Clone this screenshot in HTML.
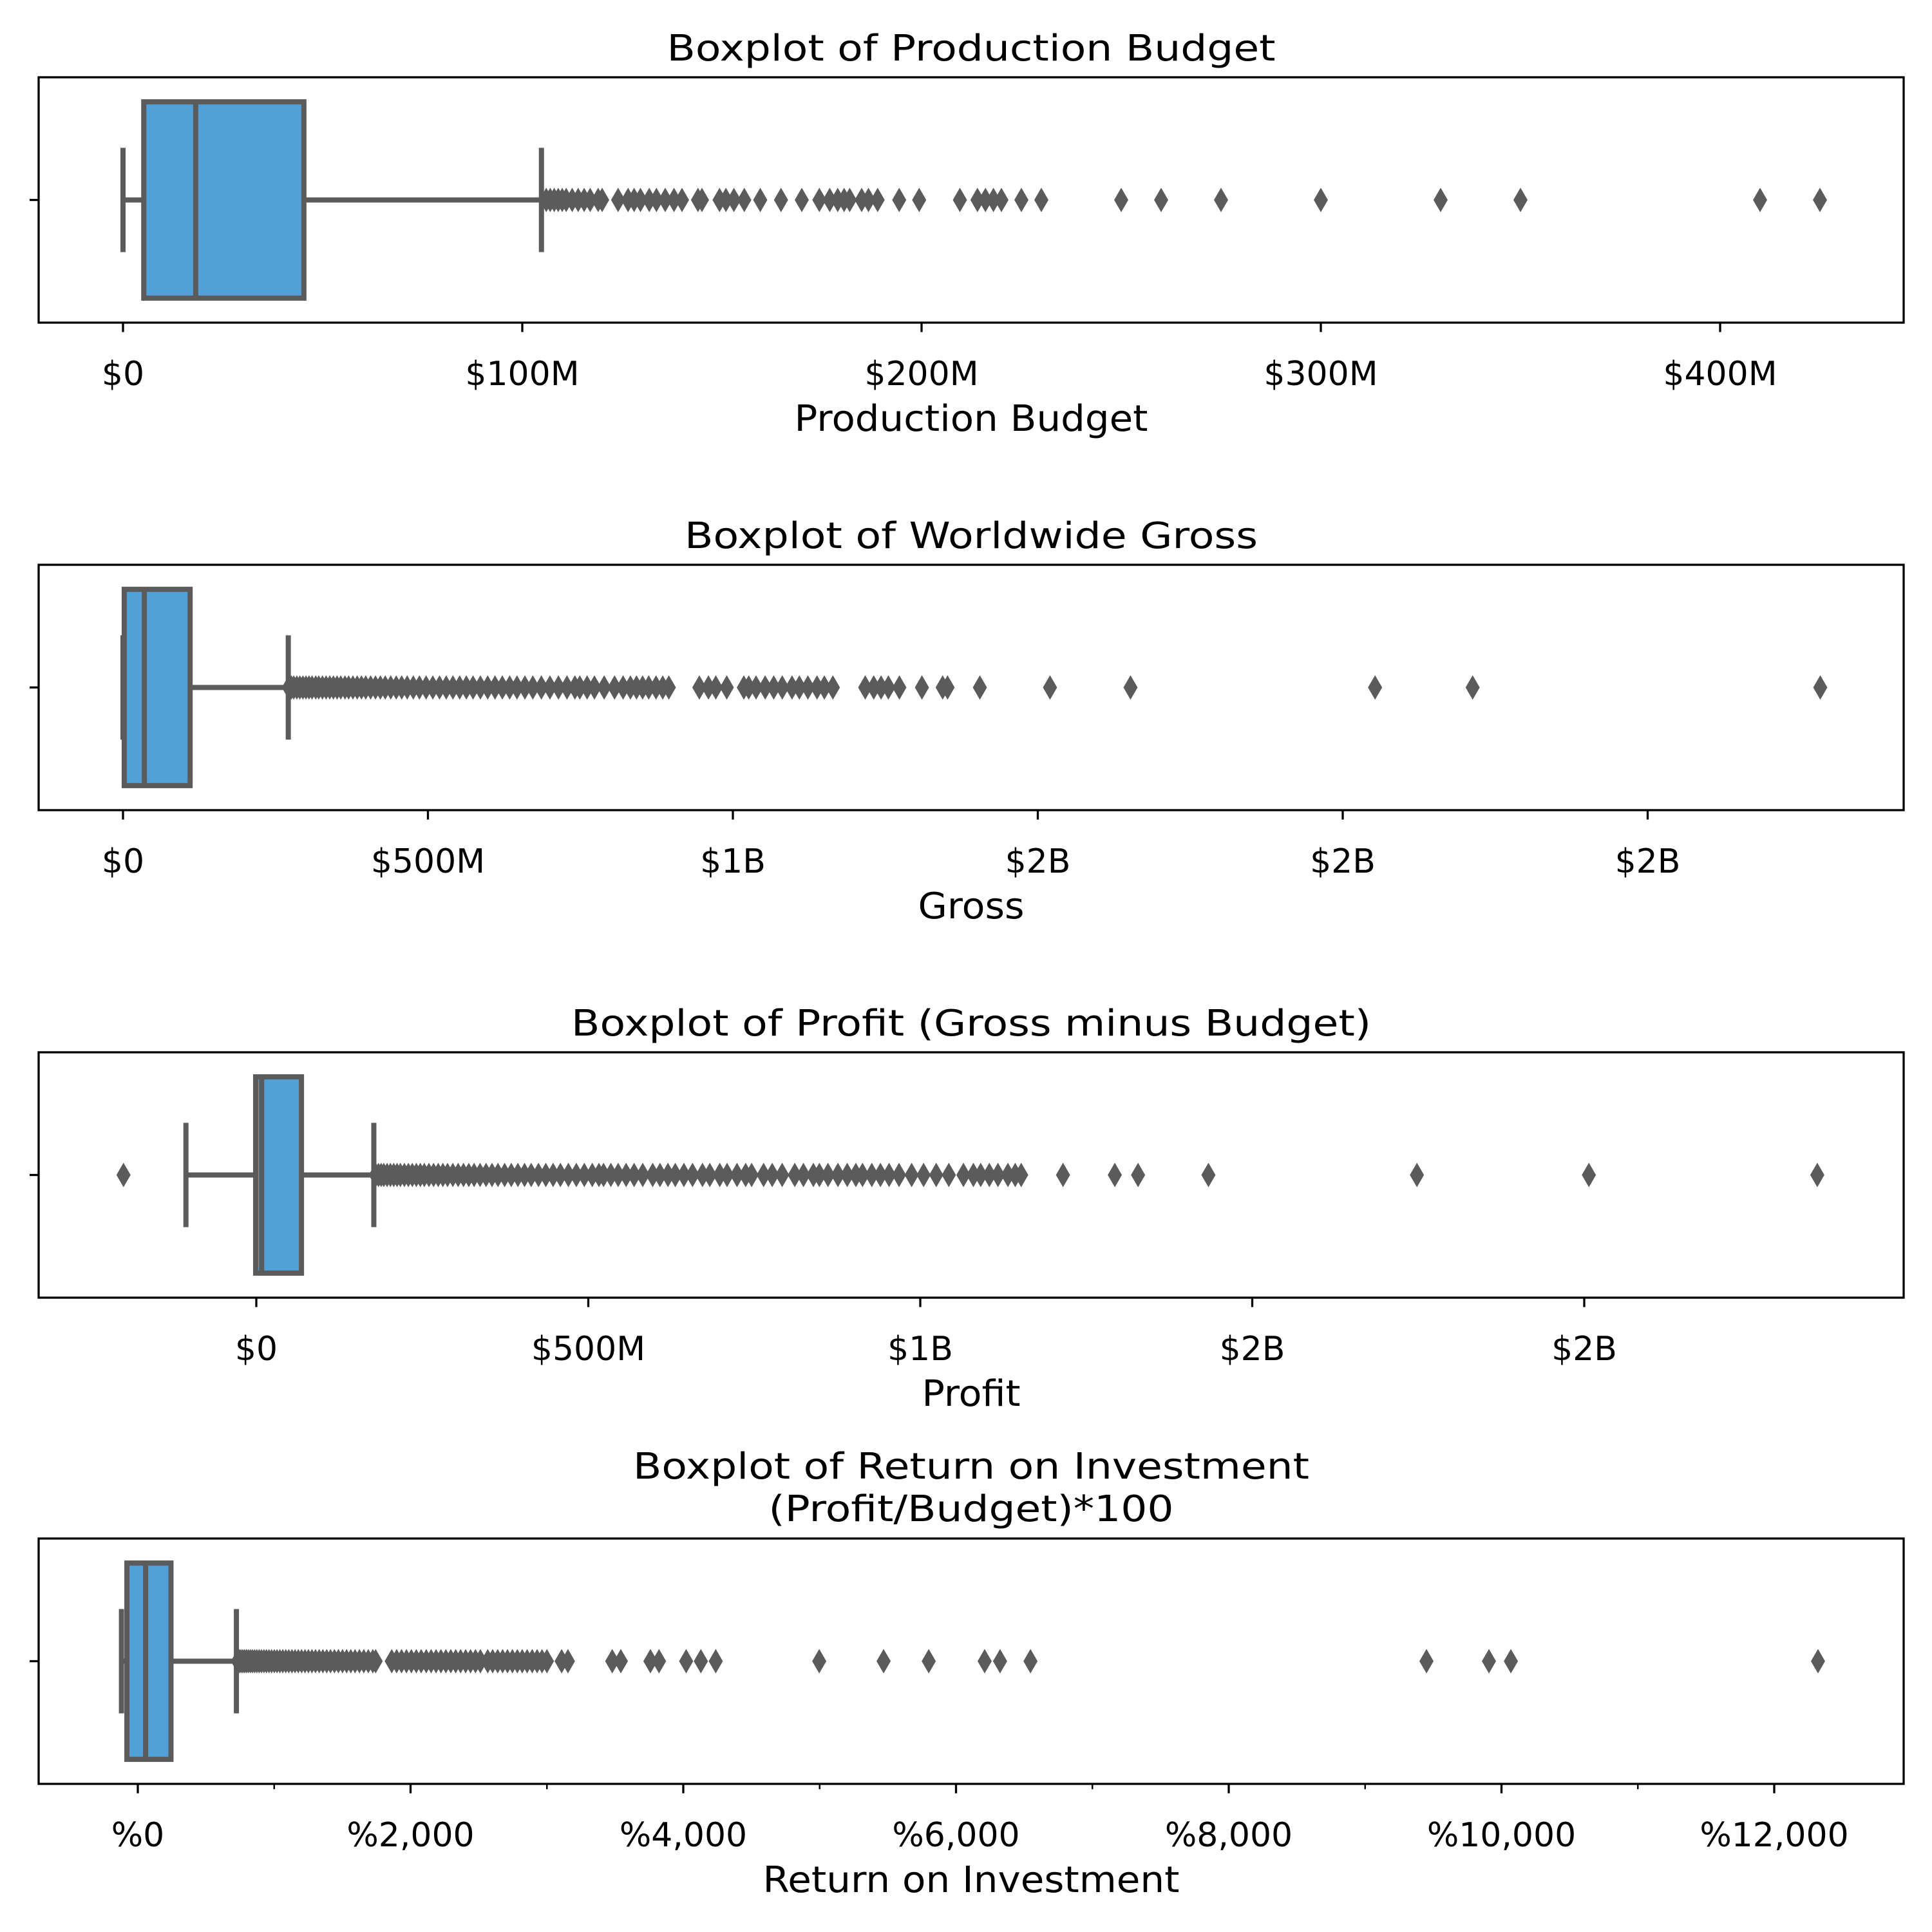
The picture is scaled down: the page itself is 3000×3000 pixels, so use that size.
<!DOCTYPE html>
<html><head><meta charset="utf-8"><style>
html,body{margin:0;padding:0;background:#fff;}
svg{display:block;font-family:"DejaVu Sans","Liberation Sans",sans-serif;}
</style></head><body>
<svg id="chart" width="3000" height="3000" viewBox="0 0 3000 3000" xmlns="http://www.w3.org/2000/svg"></svg>
<script>
// ---------- data ----------
const budgetStats = [0, 5.2, 18.2, 45.3, 104.8];
const budgetOutliers = [106,107,108,109,110,111,112.5,114,115.5,117,119,120,124,126.5,128,129.6,131.8,133.6,135.8,138,140,144,145,149.4,151,153,155.6,159.6,164.8,170,174.4,177,179,180.6,182,185,186.7,189,194.4,199.4,209.6,214,216,218,220,225,230,250,260,275,300,330,350,410,425];
const budgetTicks = [0,100,200,300,400];
const budgetTickLabels = ["$0","$100M","$200M","$300M","$400M"];

const grossStats = [0, 2, 35, 110, 271];
const grossOutliers = [272,276,280,285,290,295,300,305,310,316,321,327,333,339,345,351,357,364,370,377,384,391,398,406,414,422,430,439,448,457,466,476,486,497,508,519,530,541,552,563,574,586,598,610,622,634,646,659,672,686,700,714,728,741,749,761,773,789,806,820,832,842,852,862,874,885,895,945,960,972,990,1018,1026,1038,1053,1067,1081,1097,1109,1123,1138,1150,1164,1217,1231,1243,1255,1273,1310,1344,1352,1405,1520,1652,2053,2213,2783];
const grossTicks = [0,500,1000,1500,2000,2500];
const grossTickLabels = ["$0","$500M","$1B","$2B","$2B","$2B"];

const profitStats = [-106, -1, 8, 68, 177];
const profitOutliers = [-200,180,184,188,192,197,202,207,212,217,223,229,235,241,247,253,260,267,274,281,288,296,304,312,320,328,337,346,355,364,374,384,394,404,414,425,436,447,458,470,482,494,506,516,523,534,545,557,569,582,597,608,620,631,644,657,672,683,698,709,724,737,746,764,777,792,811,824,839,848,861,876,890,903,913,927,940,953,968,987,1005,1024,1043,1065,1080,1091,1104,1117,1132,1143,1152,1215,1293,1328,1434,1748,2007,2351];
const profitTicks = [0,500,1000,1500,2000];
const profitTickLabels = ["$0","$500M","$1B","$2B","$2B"];

const roiStats = [-120, -80, 57, 243, 723];
const roiOutliers = [734,745,757,770,783,797,811,826,841,857,873,890,907,925,943,962,981,1001,1021,1042,1063,1085,1107,1130,1153,1177,1201,1226,1251,1277,1303,1330,1357,1385,1413,1442,1471,1501,1531,1562,1593,1625,1657,1690,1723,1744,1862,1898,1934,1970,2006,2042,2078,2115,2151,2187,2223,2259,2295,2331,2367,2404,2440,2476,2512,2566,2602,2639,2675,2711,2747,2783,2819,2855,2892,2928,2964,3000,3108,3154,3479,3542,3759,3822,4021,4129,4238,4997,5469,5800,6210,6323,6546,9450,9908,10069,12321];
const roiTicks = [0,2000,4000,6000,8000,10000,12000];
const roiTickLabels = ["%0","%2,000","%4,000","%6,000","%8,000","%10,000","%12,000"];
const roiMinorTicks = [1000,3000,5000,7000,9000,11000];

// ---------- drawing ----------
const NS = "http://www.w3.org/2000/svg";
const svg = document.getElementById("chart");
function mk(tag, attrs, parent){
  const e = document.createElementNS(NS, tag);
  for (const k in attrs) e.setAttribute(k, attrs[k]);
  (parent||svg).appendChild(e);
  return e;
}
const AX_L = 60, AX_R = 2956, AX_H = 381;
const LINE = "#5b5b5b", FILL = "#52a0d8";

function panel(cfg){
  const g = mk("g", {});
  
  
  const top = cfg.top, bot = top + AX_H, cy = top + AX_H/2;
  const xs = v => cfg.x0 + v * cfg.k;

  cfg.title.forEach((t, i) => {
    const tt = mk("text", {x: 1508, y: cfg.titleY[i], "text-anchor":"middle", "font-size":56, textLength: cfg.titleW[i], lengthAdjust:"spacingAndGlyphs", fill:"#000"}, g);
    tt.textContent = t;
    
    
  });

  const s = cfg.stats;
  const bh = AX_H*0.4, ch = AX_H*0.2125;
  const wl = mk("line", {x1: xs(s[0]), x2: xs(s[1]), y1: cy, y2: cy, stroke: LINE, "stroke-width": 8}, g);
  
  
  const wh = mk("line", {x1: xs(s[3]), x2: xs(s[4]), y1: cy, y2: cy, stroke: LINE, "stroke-width": 8}, g);
  
  
  [s[0], s[4]].forEach((v, i) => {
    const c = mk("line", {x1: xs(v), x2: xs(v), y1: cy-ch, y2: cy+ch, stroke: LINE, "stroke-width": 8}, g);
    
    
  });
  const box = mk("rect", {x: xs(s[1]), y: cy-bh, width: xs(s[3])-xs(s[1]), height: 2*bh, fill: FILL, stroke: LINE, "stroke-width": 8}, g);
  
  
  const med = mk("line", {x1: xs(s[2]), x2: xs(s[2]), y1: cy-bh, y2: cy+bh, stroke: LINE, "stroke-width": 8}, g);
  
  

  cfg.outliers.forEach(v => {
    const x = xs(v);
    const d = mk("path", {d: `M${x} ${cy-19} L${x+11} ${cy} L${x} ${cy+19} L${x-11} ${cy} Z`, fill: LINE}, g);
    
    
  });

  const fr = mk("rect", {x: AX_L, y: top, width: AX_R-AX_L, height: AX_H, fill:"none", stroke:"#000", "stroke-width": 3.3}, g);
  
  
  const yt = mk("line", {x1: AX_L-14, x2: AX_L, y1: cy, y2: cy, stroke:"#000", "stroke-width": 3.3}, g);
  
  

  cfg.ticks.forEach((v, i) => {
    const x = xs(v);
    const tk = mk("line", {x1: x, x2: x, y1: bot, y2: bot+14.6, stroke:"#000", "stroke-width": 3.3}, g);
    
    
    const tl = mk("text", {x: x, y: bot + 97, "text-anchor":"middle", "font-size": 52, fill:"#000"}, g);
    tl.textContent = cfg.tickLabels[i];
    
    
  });
  (cfg.minor||[]).forEach(v => {
    const x = xs(v);
    const mt = mk("line", {x1: x, x2: x, y1: bot, y2: bot+8.3, stroke:"#000", "stroke-width": 2.5}, g);
    
    
  });

  const xl = mk("text", {x: 1508, y: bot + 168, "text-anchor":"middle", "font-size": 56, textLength: cfg.labelW, lengthAdjust:"spacingAndGlyphs", fill:"#000"}, g);
  xl.textContent = cfg.xlabel;
  
  
}

panel({name:"budget", top:120, x0:191, k:6.2, stats:budgetStats, outliers:budgetOutliers, ticks:budgetTicks, tickLabels:budgetTickLabels,
  title:["Boxplot of Production Budget"], titleY:[94], titleW:[945], xlabel:"Production Budget", labelW:549});
panel({name:"gross", top:877, x0:191, k:0.947, stats:grossStats, outliers:grossOutliers, ticks:grossTicks, tickLabels:grossTickLabels,
  title:["Boxplot of Worldwide Gross"], titleY:[851], titleW:[890], xlabel:"Gross", labelW:165});
panel({name:"profit", top:1634, x0:398, k:1.031, stats:profitStats, outliers:profitOutliers, ticks:profitTicks, tickLabels:profitTickLabels,
  title:["Boxplot of Profit (Gross minus Budget)"], titleY:[1608], titleW:[1242], xlabel:"Profit", labelW:153});
panel({name:"roi", top:2389, x0:214, k:0.21175, stats:roiStats, outliers:roiOutliers, ticks:roiTicks, tickLabels:roiTickLabels, minor:roiMinorTicks,
  title:["Boxplot of Return on Investment","(Profit/Budget)*100"], titleY:[2296,2362], titleW:[1050,629], xlabel:"Return on Investment", labelW:647});
</script>
</body></html>
